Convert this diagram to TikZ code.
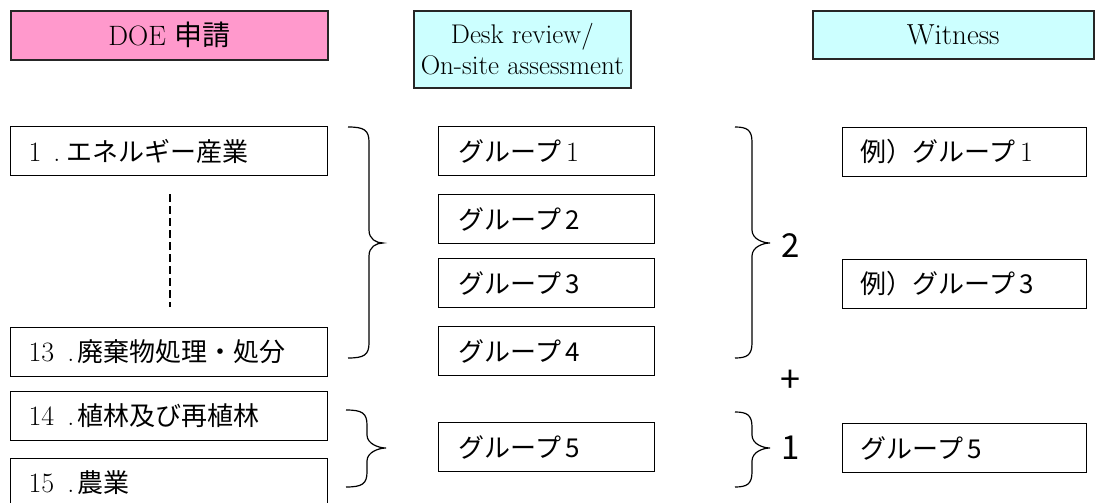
\documentclass[tikz,border=0pt]{standalone}
\usepackage{fontspec}
\newfontfamily\jp{Noto Sans CJK JP}
\definecolor{pinkfill}{HTML}{FF99CC}
\definecolor{cyanfill}{HTML}{CCFFFF}
\newcommand\serifd[1]{{\rmfamily\fontsize{28}{30}\selectfont #1}}
\newcommand\cbrace[6]{\draw[bracestyle] (#1,#4) .. controls ({#2-5},#4) and (#2,{#4+3}) .. (#2,{#4+15}) -- (#2,{#5-13}) .. controls (#2,{#5-4}) and ({#3-7},#5) .. (#3,#5) .. controls ({#3-7},#5) and (#2,{#5+4}) .. (#2,{#5+13}) -- (#2,{#6-15}) .. controls (#2,{#6-3}) and ({#2-5},#6) .. (#1,#6);}
\begin{document}
\begin{tikzpicture}[x=1pt,y=-1pt,
  hdr/.style={draw=black!85, line width=1.6pt, anchor=north west, inner sep=0pt, align=center, font=\fontsize{28}{31}\selectfont},
  item/.style={draw, line width=1.2pt, anchor=north west, inner ysep=0pt, minimum height=49pt, align=left, font=\jp\fontsize{26}{30}\selectfont},
  leftitem/.style={item, inner xsep=18pt, text width=281pt},
  grpitem/.style={item, inner xsep=20pt, text width=176pt},
  rightitem/.style={item, inner xsep=18pt, text width=208pt},
  numlbl/.style={font=\jp\fontsize{33}{36}\selectfont, inner sep=0pt},
  bracestyle/.style={line width=1.2pt},
  dashline/.style={line width=1.2pt, dash pattern=on 8pt off 4pt}]
\useasboundingbox (0,0) rectangle (1095,503);

% headers
\node[hdr, fill=pinkfill, minimum width=317pt, minimum height=49pt] (h1) at (10,10) {DOE {\jp 申請}};
\node[hdr, fill=cyanfill, minimum width=217pt, minimum height=77pt, font=\fontsize{27}{31}\selectfont] (h2) at (413,10) {Desk review/\\On-site assessment};
\node[hdr, fill=cyanfill, minimum width=281pt, minimum height=48pt, font=\fontsize{29}{31}\selectfont] (h3) at (812,10) {Witness};

% left column
\node[leftitem] (e1) at (10,126) {\serifd{1\hspace{12pt}.\hspace{6pt}}エネルギー産業};
\node[leftitem] (e13) at (10,327) {\serifd{13\hspace{13pt}.\hspace{3pt}}廃棄物処理・処分};
\node[leftitem] (e14) at (10,391) {\serifd{14\hspace{13pt}.\hspace{3pt}}植林及び再植林};
\node[leftitem] (e15) at (10,458) {\serifd{15\hspace{13pt}.\hspace{3pt}}農業};
\coordinate (d1) at (170,194);
\coordinate (d2) at (170,307);
\draw[dashline] (d1) -- (d2);

% middle column
\node[grpitem] (g1) at (438,126) {グループ\hspace{5pt}\serifd{1}};
\node[grpitem] (g2) at (438,194) {グループ\hspace{4pt}2};
\node[grpitem] (g3) at (438,258) {グループ\hspace{4pt}3};
\node[grpitem] (g4) at (438,326) {グループ\hspace{4pt}4};
\node[grpitem] (g5) at (438,422) {グループ\hspace{4pt}5};

% right column
\node[rightitem] (r1) at (842,127) {例）グループ\hspace{5pt}\serifd{1}};
\node[rightitem] (r3) at (842,259) {例）グループ\hspace{4pt}3};
\node[rightitem] (r5) at (842,423) {グループ\hspace{4pt}5};

% braces
\cbrace{348}{369}{383}{127}{243}{358}
\cbrace{346}{367}{386}{410}{448}{487}
\cbrace{735}{752}{770}{127}{243}{358}
\cbrace{735}{752}{770}{412}{448}{487}

\node[numlbl] (n2) at (791,246) {2};
\node[numlbl, font=\jp\fontsize{36}{40}\selectfont] (plus) at (790,381) {+};
\node[numlbl] (n1) at (791,448) {1};
\end{tikzpicture}
\end{document}
